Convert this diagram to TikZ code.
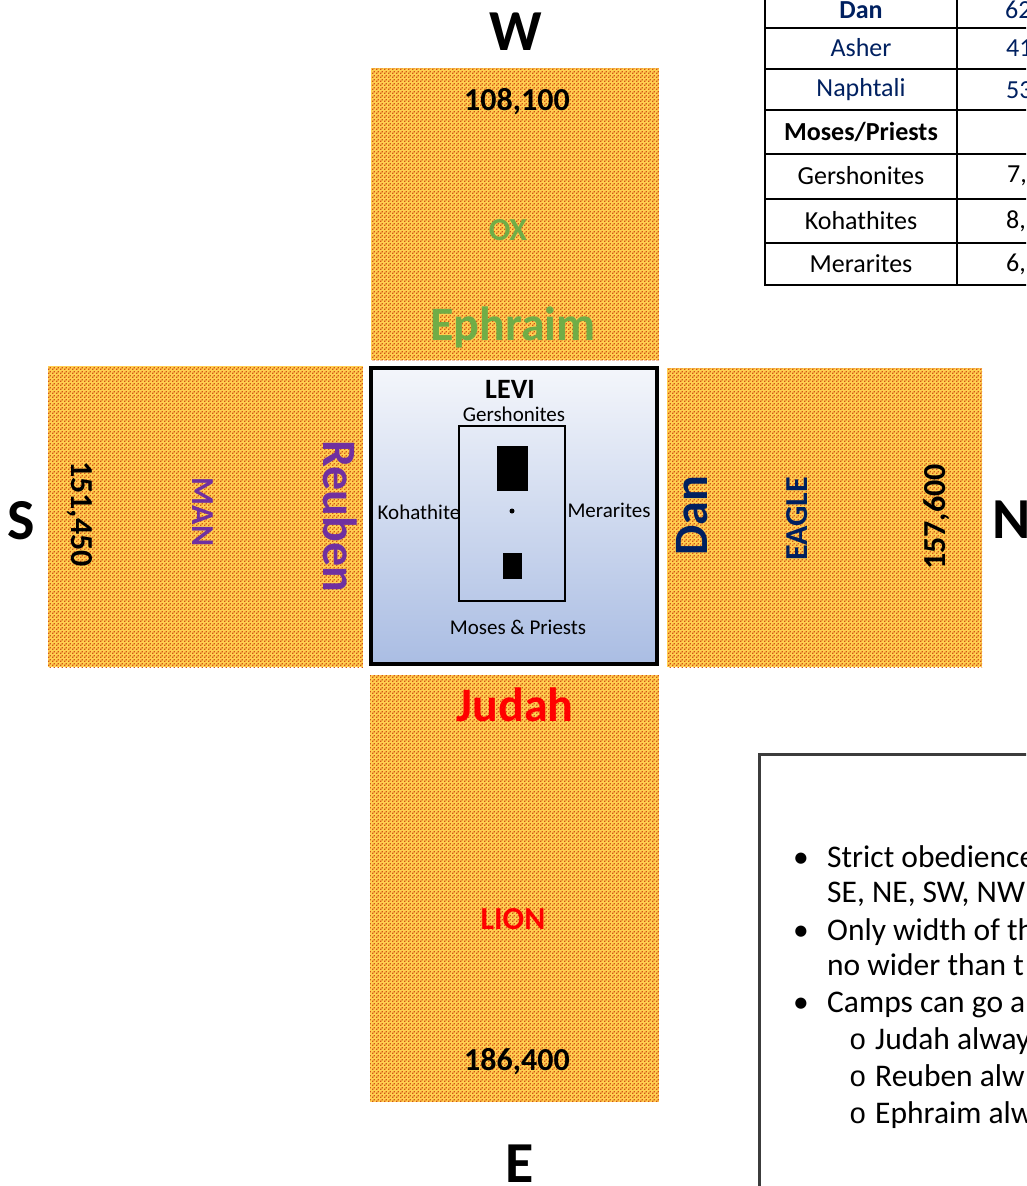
\documentclass[tikz,border=0pt]{standalone}
\usepackage{fontspec}
\setmainfont{Carlito}
\newfontfamily\markfont{Liberation Mono}
\usepackage{xcolor}
\usepackage{tikz}
\usetikzlibrary{patterns}
\definecolor{campyellow}{RGB}{255,206,80}
\definecolor{campdot}{RGB}{212,82,22}
\definecolor{reubenpurple}{RGB}{112,48,160}
\definecolor{dannavy}{RGB}{0,32,96}
\definecolor{ephraimgreen}{RGB}{112,173,71}
\definecolor{levitop}{RGB}{244,246,251}
\definecolor{levibottom}{RGB}{170,189,227}
\definecolor{notegray}{RGB}{60,60,60}
\pgfdeclarepatternformonly{campdots}{\pgfqpoint{0pt}{0pt}}{\pgfqpoint{4pt}{4pt}}{\pgfqpoint{4pt}{4pt}}{%
  \pgfpathrectangle{\pgfqpoint{0pt}{0pt}}{\pgfqpoint{1.7pt}{1.7pt}}%
  \pgfpathrectangle{\pgfqpoint{2pt}{2pt}}{\pgfqpoint{1.7pt}{1.7pt}}%
  \pgfusepath{fill}}
\tikzset{
  camp/.style={fill=campyellow, postaction={pattern=campdots, pattern color=campdot}},
  tribe/.style={font=\fontsize{48}{50}\selectfont\bfseries},
  beast/.style={font=\fontsize{32}{34}\selectfont\bfseries},
  count/.style={font=\fontsize{32}{34}\selectfont\bfseries},
  compass/.style={font=\fontsize{58}{60}\selectfont\bfseries},
  levitext/.style={font=\fontsize{21}{23}\selectfont},
  cell/.style={font=\fontsize{26}{28}\selectfont},
  note/.style={font=\fontsize{31.5}{33}\selectfont, anchor=base west},
  markstyle/.style={note, font=\fontsize{29}{31}\markfont},
}

\begin{document}
\begin{tikzpicture}[x=1pt, y=-1pt, inner sep=0pt]
  \useasboundingbox (0,0) rectangle (1026,1186);
  \clip (0,0) rectangle (1026,1186);

  % camps round the tabernacle
  \fill[camp] (371,68) rectangle (659,360);
  \fill[camp] (48,366) rectangle (363,667);
  \fill[camp] (667,368) rectangle (982,667);
  \fill[camp] (370,675) rectangle (659,1102);

  \draw[line width=4pt, top color=levitop, bottom color=levibottom] (371,368) rectangle (657,664);
  \draw[line width=2pt] (459,426) rectangle (565,601);
  \fill (497,446) rectangle (528,491);
  \fill (503,553) rectangle (522,579);
  \fill (512,511) circle (2.5);

  \node[font=\fontsize{28}{30}\selectfont\bfseries] (levi) at (510,389) {LEVI};
  \node[levitext] (gersh) at (514,414) {Gershonites};
  \node[levitext] (kohath) at (419,512) {Kohathite};
  \node[levitext] (merar) at (609,510) {Merarites};
  \node[levitext] (moses) at (518,627) {Moses \& Priests};

  \node[count] (wcount) at (517,102) {108,100};
  \node[beast, text=ephraimgreen] (ox) at (508,230) {OX};
  \node[tribe, text=ephraimgreen] (ephraim) at (513,327) {Ephraim};

  \node[tribe, text=red] (judah) at (515,705) {Judah};
  \node[beast, text=red] (lion) at (513,919) {LION};
  \node[count] (ecount) at (517,1062) {186,400};

  \node[count, rotate=-90] (scount) at (80,514) {151,450};
  \node[beast, rotate=-90, text=reubenpurple] (man) at (203,512) {MAN};
  \node[tribe, rotate=-90, text=reubenpurple] (reuben) at (340,516) {Reuben};

  \node[tribe, rotate=90, text=dannavy] (dan) at (692,516) {Dan};
  \node[beast, rotate=90, text=dannavy] (eagle) at (797,519) {EAGLE};
  \node[count, rotate=90] (ncount) at (937,517) {157,600};

  \node[compass] (west) at (516,32) {W};
  \node[compass] (south) at (21,521) {S};
  \node[compass] (north) at (1012,520) {N};
  \node[compass] (east) at (520,1164) {E};

  % census table, cut at the edge
  \foreach \y in {28,69,110,154,199,243,285}
    \draw[line width=2pt] (764,\y) -- (1030,\y);
  \draw[line width=2pt] (765,-2) -- (765,286);
  \draw[line width=2pt] (957,-2) -- (957,286);
  \node[cell, text=dannavy] (tdan) at (861,10) {\bfseries Dan};
  \node[cell, text=dannavy] (tasher) at (861,48) {Asher};
  \node[cell, text=dannavy] (tnaph) at (861,90) {Naphtali};
  \node[cell] (tmoses) at (861,132) {\bfseries Moses/Priests};
  \node[cell] (tgersh) at (861,176) {Gershonites};
  \node[cell] (tkohath) at (861,221) {Kohathites};
  \node[cell] (tmerar) at (861,264) {Merarites};
  \node[cell, text=dannavy, anchor=west] (vdan) at (1005,10) {62};
  \node[cell, text=dannavy, anchor=west] (vasher) at (1006,48) {41};
  \node[cell, text=dannavy, anchor=west] (vnaph) at (1006,90) {53};
  \node[cell, anchor=west] (vgersh) at (1007,176) {7,};
  \node[cell, anchor=west] (vkohath) at (1006,221) {8,};
  \node[cell, anchor=west] (vmerar) at (1006,264) {6,};

  % notes box
  \draw[notegray, line width=3pt] (1030,754) -- (759,754) -- (759,1190);
  \node[note] (dot1) at (793,867) {\textbullet};
  \node[note] (n1) at (827,867) {Strict obedience};
  \node[note] (n1b) at (827,902) {SE, NE, SW, NW};
  \node[note] (dot2) at (793,940) {\textbullet};
  \node[note] (n2) at (827,940) {Only width of th};
  \node[note] (n2b) at (827,975) {no wider than t};
  \node[note] (dot3) at (793,1012) {\textbullet};
  \node[note] (n3) at (827,1012) {Camps can go a};
  \node[markstyle] (o1) at (849,1049) {o};
  \node[note] (n4) at (875,1049) {Judah alway};
  \node[markstyle] (o2) at (849,1086) {o};
  \node[note] (n5) at (875,1086) {Reuben alw};
  \node[markstyle] (o3) at (849,1123) {o};
  \node[note] (n6) at (875,1123) {Ephraim alw};
\end{tikzpicture}
\end{document}
